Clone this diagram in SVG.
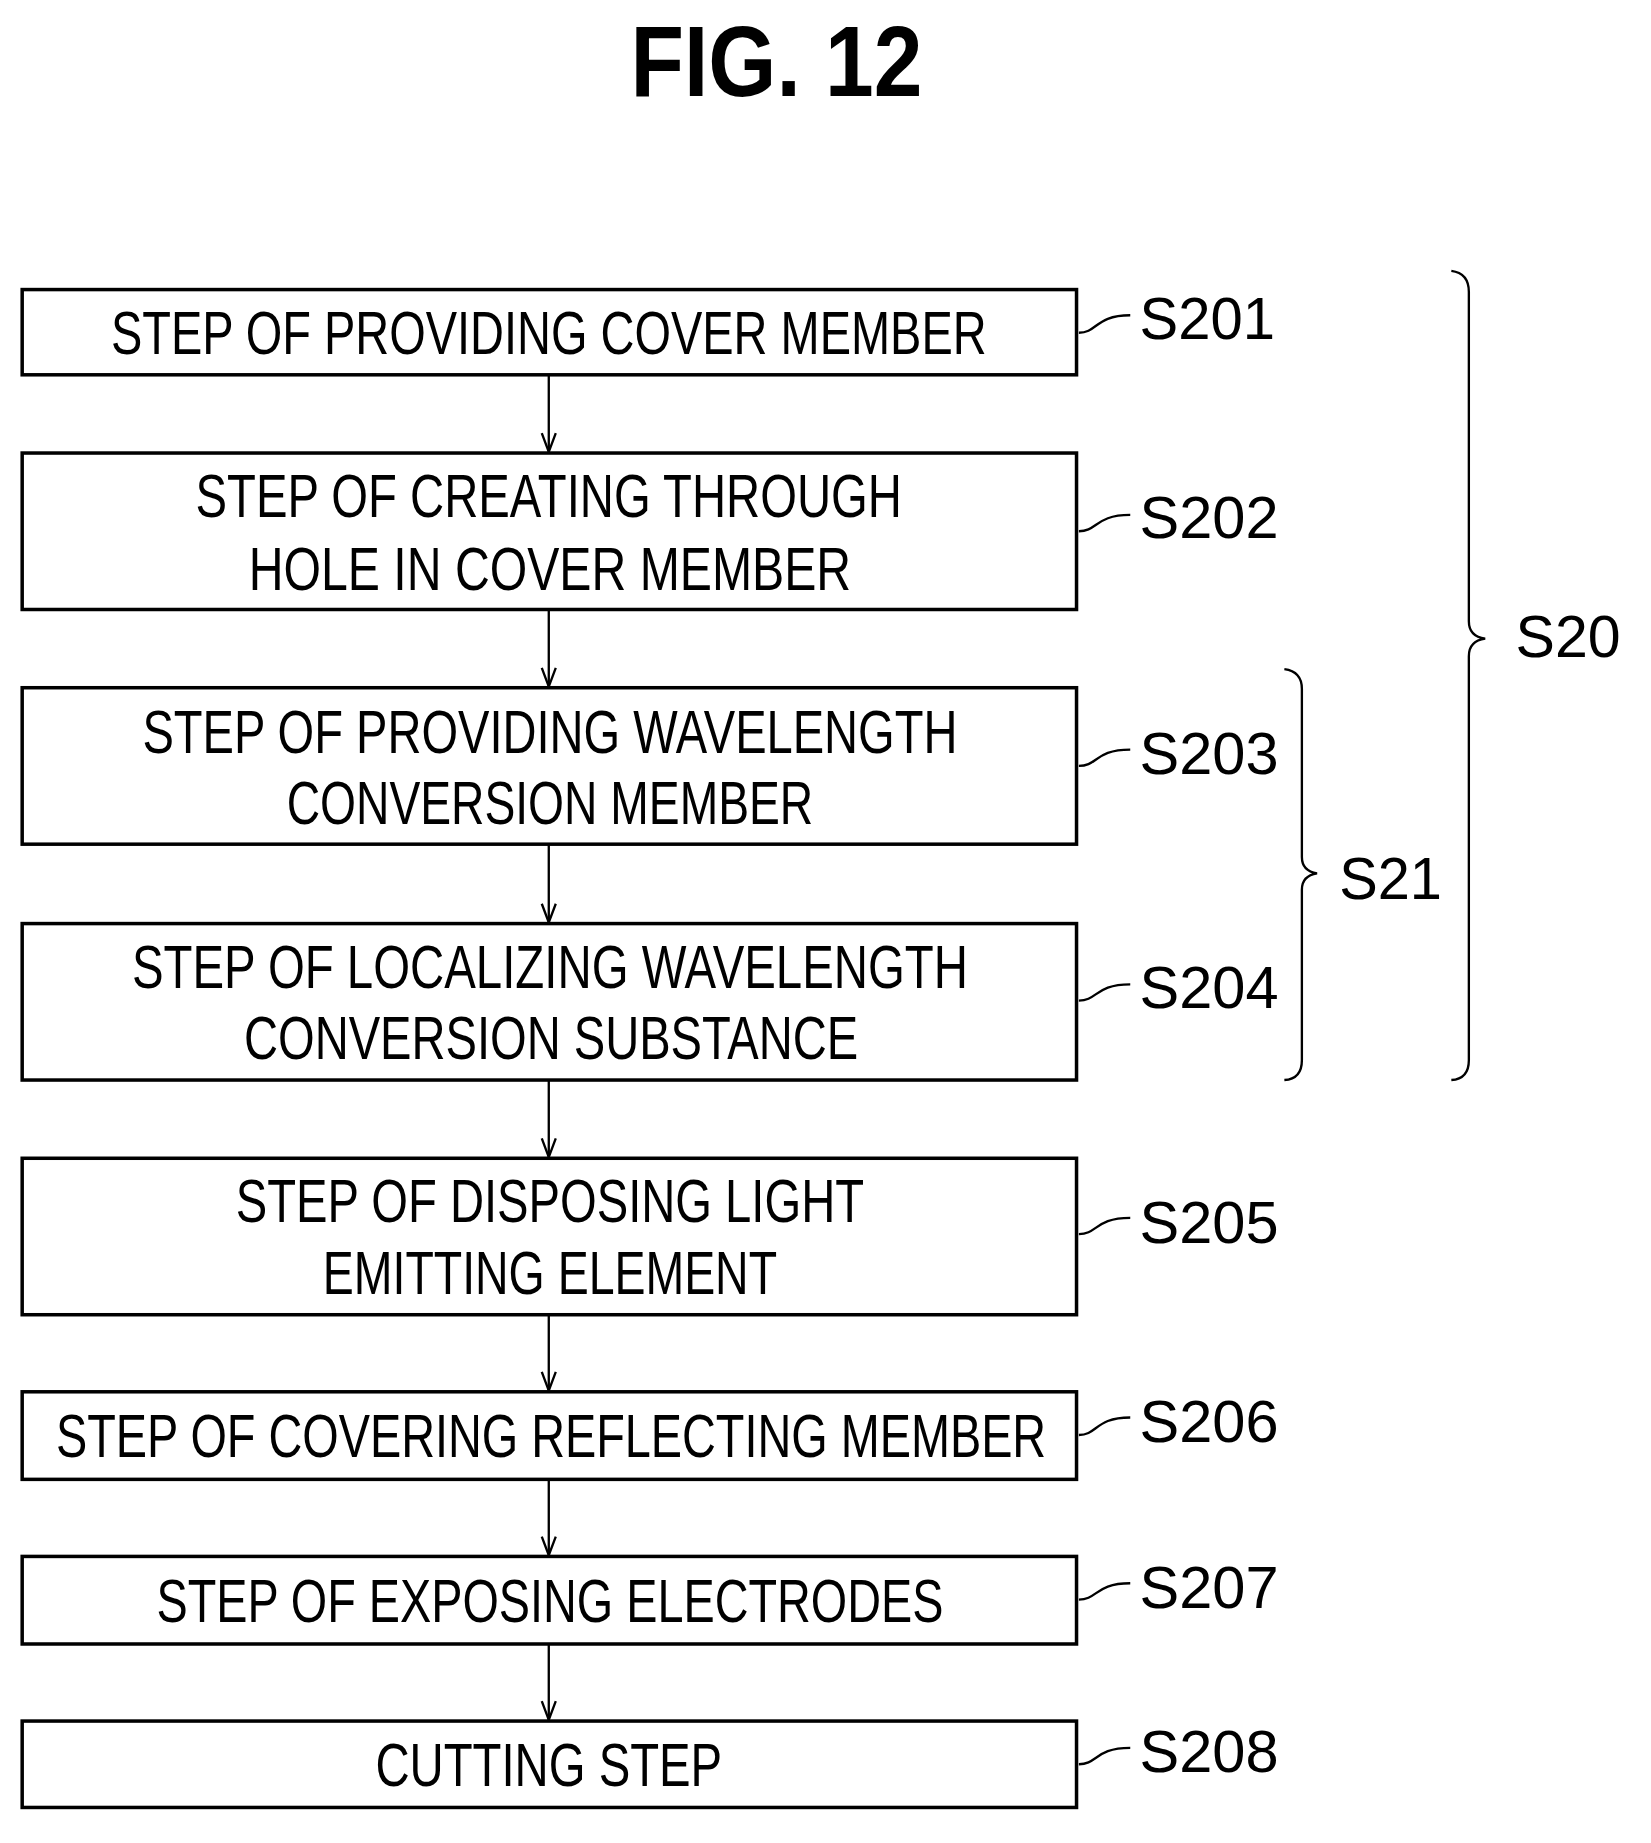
<svg xmlns="http://www.w3.org/2000/svg" width="1651" height="1843" viewBox="0 0 1651 1843">
<style>
.b{fill:#fff;stroke:#000;stroke-width:3}
.t{font-family:"Liberation Sans",Arial,sans-serif;font-size:52px;text-anchor:middle;fill:#000}
.l{font-family:"Liberation Sans",Arial,sans-serif;font-size:50px;fill:#000}
.c{fill:none;stroke:#000;stroke-width:2}
</style>
<defs><marker id="a" markerWidth="20" markerHeight="16" refX="18" refY="7" orient="auto" markerUnits="userSpaceOnUse"><path d="M2,1 L18,7 L2,13" fill="none" stroke="#000" stroke-width="2"/></marker></defs>
<rect width="1651" height="1843" fill="#fff"/>
<g transform="scale(1.16761)">
<text x="665" y="82" font-family="Liberation Sans,Arial,sans-serif" font-weight="bold" font-size="86" text-anchor="middle" textLength="250" lengthAdjust="spacingAndGlyphs">FIG. 12</text>
<g id="connectors">
<line class="c" x1="470" y1="321" x2="470" y2="387" marker-end="url(#a)"/>
<line class="c" x1="470" y1="522" x2="470" y2="588" marker-end="url(#a)"/>
<line class="c" x1="470" y1="723" x2="470" y2="790" marker-end="url(#a)"/>
<line class="c" x1="470" y1="925" x2="470" y2="991" marker-end="url(#a)"/>
<line class="c" x1="470" y1="1126" x2="470" y2="1191" marker-end="url(#a)"/>
<line class="c" x1="470" y1="1267" x2="470" y2="1332" marker-end="url(#a)"/>
<line class="c" x1="470" y1="1408" x2="470" y2="1473" marker-end="url(#a)"/>
<path class="c" d="M924,285 C940,285 938,270 968,270"/>
<path class="c" d="M924,455 C940,455 938,441 968,441"/>
<path class="c" d="M924,656 C940,656 938,642 968,642"/>
<path class="c" d="M924,857 C940,857 938,843 968,843"/>
<path class="c" d="M924,1057 C940,1057 938,1043 968,1043"/>
<path class="c" d="M924,1229 C940,1229 938,1214 968,1214"/>
<path class="c" d="M924,1370 C940,1370 938,1356 968,1356"/>
<path class="c" d="M924,1511 C940,1511 938,1497 968,1497"/>
<path class="c" d="M1243,232 Q1258,234 1258,250 L1258,532 Q1258,545 1272,547 Q1258,549 1258,562 L1258,908 Q1258,924 1243,925"/>
<path class="c" d="M1100,573 Q1115,575 1115,590 L1115,734 Q1115,746 1128,748 Q1115,750 1115,762 L1115,908 Q1115,924 1100,925"/>
</g>
<g id="s201"><rect class="b" x="19" y="248" width="903" height="73"/><text class="t" x="470" y="303" textLength="750" lengthAdjust="spacingAndGlyphs">STEP OF PROVIDING COVER MEMBER</text><text class="l" x="976" y="290" textLength="116" lengthAdjust="spacingAndGlyphs">S201</text></g>
<g id="s202"><rect class="b" x="19" y="388" width="903" height="134"/><text class="t" x="470" y="443" textLength="605" lengthAdjust="spacingAndGlyphs">STEP OF CREATING THROUGH</text><text class="t" x="471" y="505" textLength="516" lengthAdjust="spacingAndGlyphs">HOLE IN  COVER MEMBER</text><text class="l" x="976" y="461" textLength="119" lengthAdjust="spacingAndGlyphs">S202</text></g>
<g id="s203"><rect class="b" x="19" y="589" width="903" height="134"/><text class="t" x="471" y="645" textLength="698" lengthAdjust="spacingAndGlyphs">STEP OF PROVIDING WAVELENGTH</text><text class="t" x="471" y="706" textLength="451" lengthAdjust="spacingAndGlyphs">CONVERSION MEMBER</text><text class="l" x="976" y="663" textLength="119" lengthAdjust="spacingAndGlyphs">S203</text></g>
<g id="s204"><rect class="b" x="19" y="791" width="903" height="134"/><text class="t" x="471" y="846" textLength="716" lengthAdjust="spacingAndGlyphs">STEP OF LOCALIZING WAVELENGTH</text><text class="t" x="472" y="907" textLength="526" lengthAdjust="spacingAndGlyphs">CONVERSION SUBSTANCE</text><text class="l" x="976" y="863" textLength="119" lengthAdjust="spacingAndGlyphs">S204</text></g>
<g id="s205"><rect class="b" x="19" y="992" width="903" height="134"/><text class="t" x="471" y="1047" textLength="538" lengthAdjust="spacingAndGlyphs">STEP OF DISPOSING LIGHT</text><text class="t" x="471" y="1108" textLength="389" lengthAdjust="spacingAndGlyphs">EMITTING ELEMENT</text><text class="l" x="976" y="1065" textLength="119" lengthAdjust="spacingAndGlyphs">S205</text></g>
<g id="s206"><rect class="b" x="19" y="1192" width="903" height="75"/><text class="t" x="472" y="1248" textLength="848" lengthAdjust="spacingAndGlyphs">STEP OF COVERING REFLECTING MEMBER</text><text class="l" x="976" y="1235" textLength="119" lengthAdjust="spacingAndGlyphs">S206</text></g>
<g id="s207"><rect class="b" x="19" y="1333" width="903" height="75"/><text class="t" x="471" y="1389" textLength="674" lengthAdjust="spacingAndGlyphs">STEP OF EXPOSING ELECTRODES</text><text class="l" x="976" y="1377" textLength="119" lengthAdjust="spacingAndGlyphs">S207</text></g>
<g id="s208"><rect class="b" x="19" y="1474" width="903" height="74"/><text class="t" x="470" y="1530" textLength="297" lengthAdjust="spacingAndGlyphs">CUTTING STEP</text><text class="l" x="976" y="1518" textLength="119" lengthAdjust="spacingAndGlyphs">S208</text></g>
<g id="s20"><text class="l" x="1298" y="563" textLength="90" lengthAdjust="spacingAndGlyphs">S20</text></g>
<g id="s21"><text class="l" x="1147" y="770" textLength="88" lengthAdjust="spacingAndGlyphs">S21</text></g>
</g>
</svg>
